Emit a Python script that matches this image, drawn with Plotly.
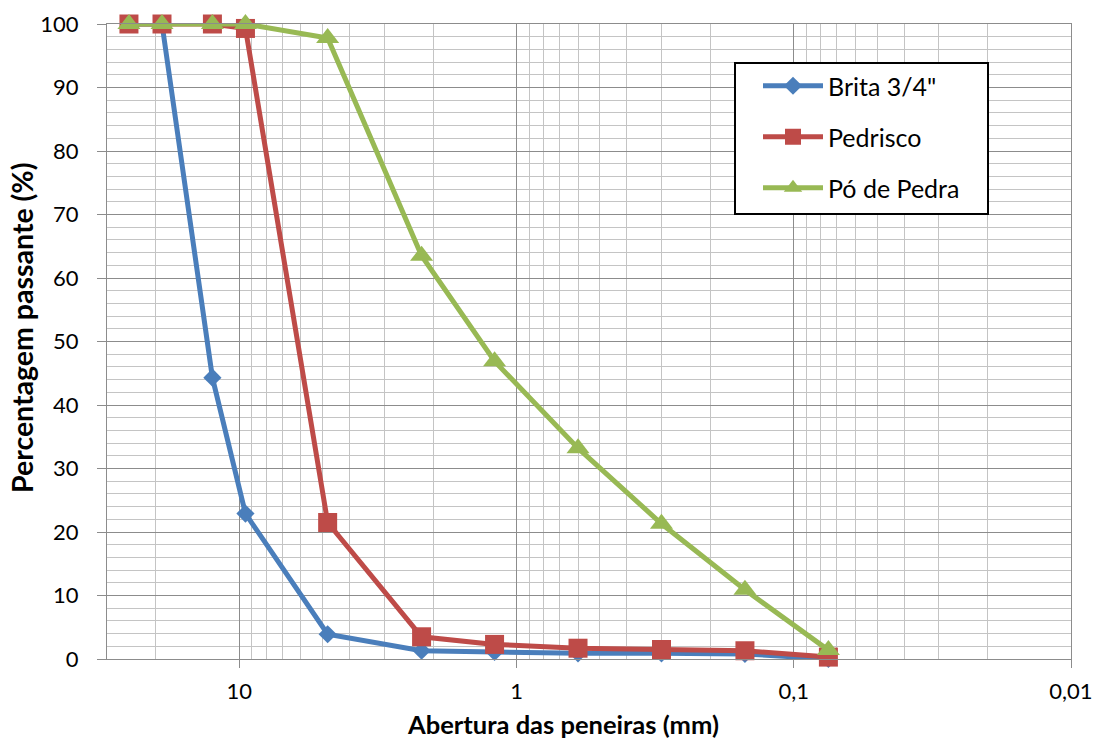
import math
import plotly.graph_objects as go

# Sieve openings (mm) and cumulative passing (%) for each material
aberturas = [25, 19, 12.5, 9.5, 4.8, 2.2, 1.2, 0.6, 0.3, 0.15, 0.075]
brita = [100, 100, 44.3, 22.9, 3.9, 1.3, 1.1, 0.9, 0.9, 0.8, 0.0]
pedrisco = [100, 100, 100, 99.3, 21.5, 3.5, 2.3, 1.7, 1.5, 1.3, 0.3]
po_pedra = [100, 100, 100, 100, 97.8, 63.5, 46.9, 33.2, 21.3, 10.9, 1.4]

nomes = ['Brita 3/4"', "Pedrisco", "Pó de Pedra"]
cores = ["#4A7EBB", "#BE4B48", "#98B954"]
simbolos = ["diamond", "square", "triangle-up"]
tamanhos = [14, 19, 20]

x_major = [10, 1, 0.1, 0.01]
x_major_text = ["10", "1", "0,1", "0,01"]
x_minor = [m * d for d in (10, 1, 0.1, 0.01) for m in range(2, 10)]

FONT = "Lato"
MAJOR = "#8C8C8C"
MINOR = "#C4C4C4"

W, H = 1099, 743
L, R, T, B = 107, 28, 24, 84
pw, ph = W - L - R, H - T - B


def px_x(p):
    return (p - L) / pw


def px_y(p):
    return (H - B - p) / ph


fig = go.Figure()
for nome, serie, cor, simb, tam in zip(nomes, [brita, pedrisco, po_pedra], cores, simbolos, tamanhos):
    fig.add_trace(go.Scatter(
        x=aberturas, y=serie, name=nome, mode="lines+markers",
        line=dict(color=cor, width=5),
        marker=dict(symbol=simb, size=tam, color=cor, line=dict(width=0)),
        cliponaxis=False, legendgroup=nome,
    ))

fig.update_layout(
    width=W, height=H,
    margin=dict(l=L, r=R, t=T, b=B, autoexpand=False),
    paper_bgcolor="white", plot_bgcolor="white",
    font=dict(family=FONT, size=22, color="black"),
    showlegend=True,
    legend=dict(
        x=px_x(758), y=px_y(63), xanchor="left", yanchor="top",
        bgcolor="rgba(0,0,0,0)", borderwidth=0,
        font=dict(family=FONT, size=25, color="black"),
        tracegroupgap=15.5, itemwidth=60,
    ),
    xaxis=dict(
        type="log", range=[math.log10(30), -2], automargin=False,
        tickmode="array", tickvals=x_major, ticktext=x_major_text,
        ticks="outside", ticklen=8, tickcolor=MAJOR, tickwidth=1,
        showgrid=True, gridcolor=MAJOR, gridwidth=1,
        showline=True, linecolor=MAJOR, linewidth=1, mirror=True,
        minor=dict(tickmode="array", tickvals=x_minor, showgrid=True,
                   gridcolor=MINOR, gridwidth=1, ticks=""),
        tickfont=dict(family=FONT, size=22, color="black"),
        ticklabelstandoff=5,
        zeroline=False,
    ),
    yaxis=dict(
        range=[0, 100], tickmode="linear", tick0=0, dtick=10, automargin=False,
        ticks="outside", ticklen=9, tickcolor=MAJOR, tickwidth=1,
        showgrid=True, gridcolor=MAJOR, gridwidth=1,
        showline=True, linecolor=MAJOR, linewidth=1, mirror=True,
        minor=dict(dtick=2, showgrid=True, gridcolor=MINOR, gridwidth=1, ticks=""),
        tickfont=dict(family=FONT, size=22, color="black"),
        ticklabelstandoff=14,
        zeroline=False,
    ),
    shapes=[dict(
        type="rect", xref="paper", yref="paper",
        x0=px_x(735), x1=px_x(988), y0=px_y(214), y1=px_y(63),
        line=dict(color="black", width=2), fillcolor="white", layer="above",
    )],
    annotations=[
        dict(text="<b>Abertura das peneiras (mm)</b>", xref="paper", yref="paper",
             x=px_x(563), y=px_y(724), xanchor="center", yanchor="middle",
             showarrow=False, font=dict(family=FONT, size=25.5, color="black")),
        dict(text="<b>Percentagem passante (%)</b>", xref="paper", yref="paper",
             x=px_x(22), y=px_y(328), xanchor="center", yanchor="middle",
             textangle=-90, showarrow=False,
             font=dict(family=FONT, size=28.5, color="black")),
    ],
)

fig.write_html("out.html")
